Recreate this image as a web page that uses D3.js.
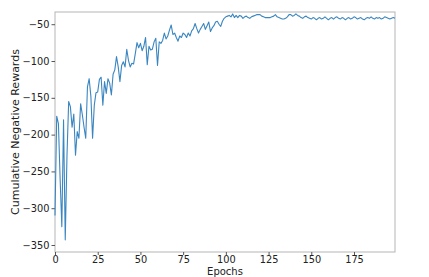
<!DOCTYPE html>
<html>
<head>
<meta charset="utf-8">
<script src="https://cdn.jsdelivr.net/npm/d3@7"></script>
<style>
  body { margin: 0; background: #fff; }
  svg { display: block; font-family: "DejaVu Sans", sans-serif; }
</style>
</head>
<body>
<div class="chart"></div>
<script>
const width = 429;
const height = 277;
const margin = { top: 12, right: 34, bottom: 25, left: 55 };

// cumulative negative reward per epoch (epochs 0..199)
const rewards = [
  -310, -175, -185, -260, -325, -180, -343, -230, -155, -162,
  -190, -172, -228, -196, -205, -158, -173, -190, -205, -135,
  -124, -148, -205, -160, -143, -142, -125, -122, -160, -128,
  -144, -124, -130, -146, -118, -112, -94, -108, -128, -106,
  -101, -108, -84, -99, -108, -103, -104, -90, -75, -82,
  -76, -86, -80, -68, -105, -80, -85, -84, -74, -69,
  -106, -74, -76, -72, -62, -70, -66, -58, -51, -64,
  -62, -68, -73, -66, -68, -62, -64, -68, -62, -66,
  -59, -56, -49, -56, -62, -57, -53, -49, -57, -52,
  -47, -60, -55, -52, -47, -46, -50, -53, -46, -42,
  -40, -39, -38, -40, -36, -41, -38, -41, -38, -39,
  -42, -40, -39, -41, -42, -40, -39, -38, -37, -37,
  -37, -39, -40, -41, -41, -41, -41, -40, -39, -37,
  -40, -41, -42, -43, -43, -42, -40, -37, -37, -39,
  -38, -36, -38, -39, -41, -42, -40, -39, -41, -42,
  -43, -41, -42, -44, -42, -41, -43, -42, -40, -42,
  -44, -42, -41, -43, -41, -40, -42, -43, -41, -42,
  -44, -42, -41, -43, -42, -40, -41, -43, -42, -41,
  -43, -44, -42, -41, -42, -40, -42, -43, -41, -42,
  -41, -43, -42, -40, -41, -42, -43, -42, -41, -42
];
const epochs = rewards.map((d, i) => i);

const xTicks = [0, 25, 50, 75, 100, 125, 150, 175];
const yTicks = [-350, -300, -250, -200, -150, -100, -50];

const xScale = d3.scaleLinear()
    .domain([0, 199])
    .range([margin.left, width - margin.right]);

const yScale = d3.scaleLinear()
    .domain([-359.5, -33.4])
    .range([height - margin.bottom, margin.top]);

const svg = d3.select("div.chart")
    .append("svg")
    .attr("width", width)
    .attr("height", height);

// frame
svg.append("rect")
    .attr("x", margin.left)
    .attr("y", margin.top)
    .attr("width", width - margin.left - margin.right)
    .attr("height", height - margin.top - margin.bottom)
    .attr("fill", "none")
    .attr("stroke", "#b5b5b5")
    .attr("stroke-width", 1);

// x axis
const xAxis = svg.append("g")
    .attr("transform", `translate(0,${height - margin.bottom})`)
    .call(d3.axisBottom(xScale).tickValues(xTicks).tickSize(3).tickPadding(1));

// y axis
const yAxis = svg.append("g")
    .attr("transform", `translate(${margin.left},0)`)
    .call(d3.axisLeft(yScale).tickValues(yTicks).tickSize(3.5).tickPadding(2));

[xAxis, yAxis].forEach(ax => {
    ax.select(".domain").remove();
    ax.selectAll(".tick line").attr("stroke", "#555");
    ax.selectAll("text")
        .attr("fill", "#222")
        .style("font-size", "9.8px")
        .style("font-family", "DejaVu Sans, sans-serif");
});

// the line
const line = d3.line()
    .x((d, i) => xScale(epochs[i]))
    .y(d => yScale(d));

svg.append("path")
    .datum(rewards)
    .attr("fill", "none")
    .attr("stroke", "#3a86c0")
    .attr("stroke-width", 1.1)
    .attr("stroke-linejoin", "round")
    .attr("d", line);

// axis labels
svg.append("text")
    .attr("x", (margin.left + width - margin.right) / 2)
    .attr("y", 275)
    .attr("text-anchor", "middle")
    .attr("fill", "#222")
    .style("font-size", "10px")
    .text("Epochs");

svg.append("text")
    .attr("transform", `translate(15,${(margin.top + height - margin.bottom) / 2}) rotate(-90)`)
    .attr("text-anchor", "middle")
    .attr("dy", "0.35em")
    .attr("fill", "#222")
    .style("font-size", "11px")
    .text("Cumulative Negative Rewards");
</script>
</body>
</html>
